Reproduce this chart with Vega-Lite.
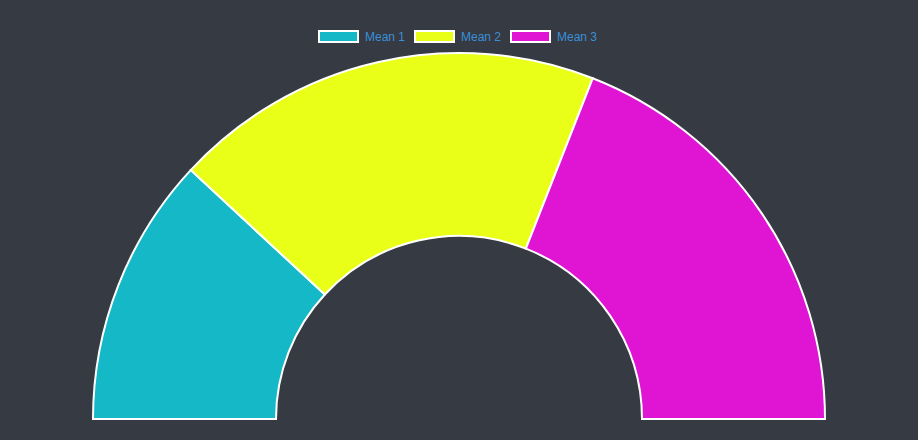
{
  "$schema": "https://vega.github.io/schema/vega-lite/v6.json",
  "autosize": "none",
  "padding": 0,
  "width": 918,
  "height": 838,
  "background": "#363a42",
  "config": {"view": {"stroke": null}, "font": "Liberation Sans"},
  "data": {
    "values": [
      {"label": "Mean 1", "value": 5, "idx": 1},
      {"label": "Mean 2", "value": 8, "idx": 2},
      {"label": "Mean 3", "value": 8, "idx": 3}
    ]
  },
  "mark": {"type": "arc", "radius": 366, "radius2": 183, "stroke": "#ffffff", "strokeWidth": 2},
  "encoding": {
    "theta": {"field": "value", "type": "quantitative", "stack": true, "scale": {"range": [-1.5707963, 1.5707963]}},
    "order": {"field": "idx", "type": "quantitative"},
    "color": {
      "field": "label",
      "type": "nominal",
      "scale": {"domain": ["Mean 1", "Mean 2", "Mean 3"], "range": ["#14b8c6", "#e9ff17", "#e015d3"]},
      "legend": {
        "title": null,
        "orient": "none",
        "direction": "horizontal",
        "legendX": 318,
        "legendY": 16,
        "symbolType": "M-1,-0.28H1V0.28H-1Z",
        "symbolSize": 1521,
        "symbolStrokeColor": "#ffffff",
        "symbolStrokeWidth": 2,
        "symbolOpacity": 1,
        "labelColor": "#3b8fd9",
        "labelFontSize": 12,
        "labelFont": "Liberation Sans",
        "labelOffset": 6,
        "columnPadding": 5
      }
    }
  }
}
